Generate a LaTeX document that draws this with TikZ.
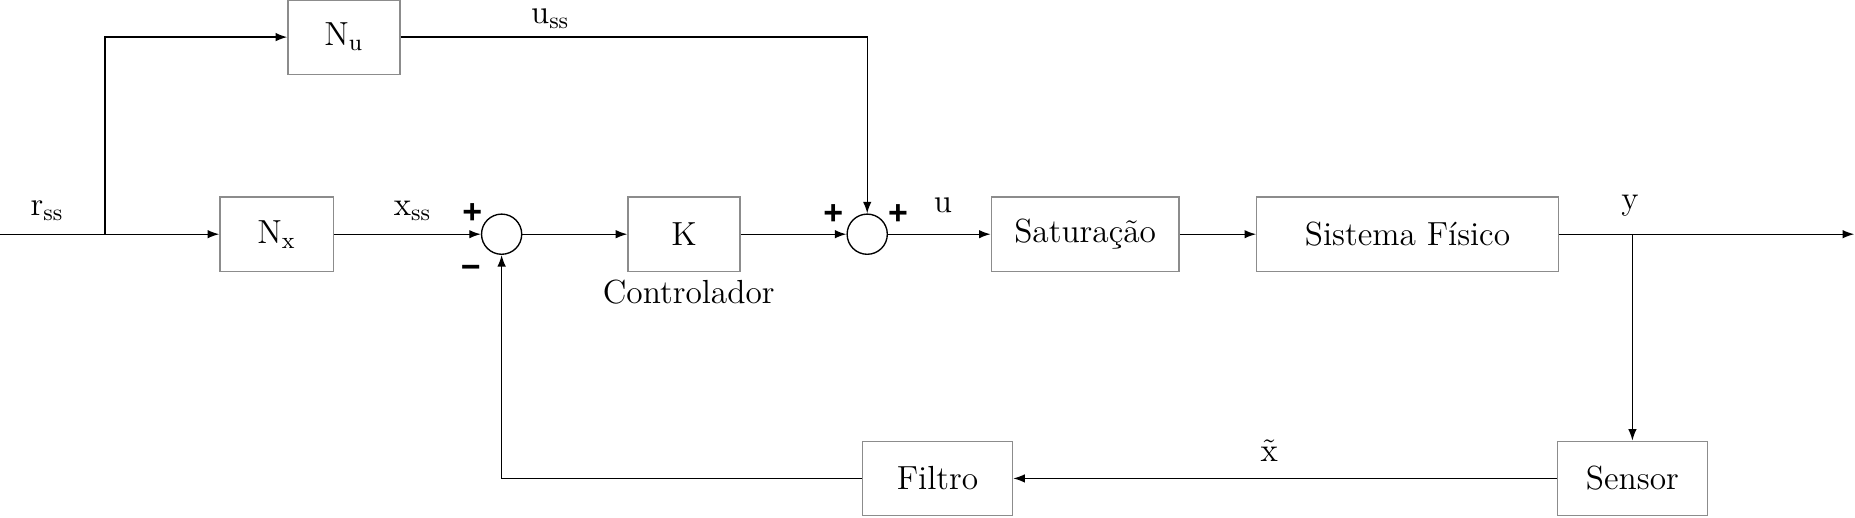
\documentclass[tikz,border=0pt]{standalone}
\usepackage{fontspec}
\newfontfamily\signfont{Liberation Sans}
\usetikzlibrary{arrows.meta}

\tikzset{
  blk/.style={draw=black!45, minimum height=0.96cm, inner sep=0pt},
  sum/.style={circle, draw, minimum size=0.52cm, inner sep=0pt},
  sig/.style={font=\signfont\bfseries\fontsize{12.5}{14}\selectfont},
  >={Latex[length=1.5mm,width=1.1mm]}
}

\begin{document}
\begin{tikzpicture}[font=\fontsize{12.3}{14}\selectfont, line width=0.5pt]

  \useasboundingbox (0,0) rectangle (24,6.69);

  %% top row
  \node[blk, minimum width=1.45cm] (Nu) at (4.45,6.21) {$\mathrm{N}_{\mathrm{u}}$};
  \node[inner sep=1pt] at (7.12,6.45) {$\mathrm{u}_{\mathrm{ss}}$};

  %% main row
  \node[blk, minimum width=1.47cm] (Nx) at (3.58,3.66) {$\mathrm{N}_{\mathrm{x}}$};
  \node[sum] (s1) at (6.49,3.66) {};
  \node[blk, minimum width=1.45cm] (K) at (8.85,3.66) {K};
  \node at (8.91,2.91) {Controlador};
  \node[sum] (s2) at (11.22,3.66) {};
  \node[blk, minimum width=2.43cm] (sat) at (14.04,3.66) {Saturação};
  \node[blk, minimum width=3.90cm] (plant) at (18.21,3.66) {Sistema Físico};

  %% bottom row
  \node[blk, minimum width=1.94cm] (sensor) at (21.12,0.50) {Sensor};
  \node[blk, minimum width=1.94cm] (filt) at (12.13,0.50) {Filtro};

  %% labels
  \node at (0.61,3.96) {$\mathrm{r}_{\mathrm{ss}}$};
  \node at (5.34,3.96) {$\mathrm{x}_{\mathrm{ss}}$};
  \node at (12.20,4.04) {u};
  \node at (21.09,4.03) {y};
  \node at (16.42,0.86) {$\tilde{\mathrm{x}}$};

  \node[sig] at (6.11,3.93) {+};
  \node[sig] at (6.09,3.17) {\char"2212};
  \node[sig] at (10.78,3.92) {+};
  \node[sig] at (11.62,3.92) {+};

  %% signals
  \coordinate (in) at (0,3.66);
  \coordinate (br) at (1.36,3.66);
  \coordinate (yb) at (21.12,3.66);
  \coordinate (out) at (23.99,3.66);

  \draw (in) -- (br);
  \draw[->] (br) -- (Nx);
  \draw[->] (br) |- (Nu);
  \draw[->] (Nx) -- (s1);
  \draw[->] (s1) -- (K);
  \draw[->] (K) -- (s2);
  \draw[->] (Nu) -| (s2);
  \draw[->] (s2) -- (sat);
  \draw[->] (sat) -- (plant);
  \draw[->] (plant) -- (out);
  \draw[->] (yb) -- (sensor);
  \draw[->] (sensor) -- (filt);
  \draw[->] (filt) -| (s1);

\end{tikzpicture}
\end{document}
